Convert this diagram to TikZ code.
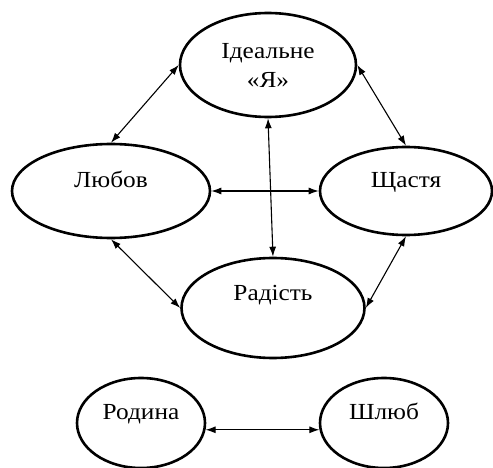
\documentclass[tikz,border=0pt]{standalone}
\usepackage{fontspec}
\setmainfont{Liberation Serif}[FakeStretch=1.1]
\usetikzlibrary{shapes.geometric}
\usetikzlibrary{arrows.meta}

\begin{document}
\begin{tikzpicture}[
  x=1pt,y=-1pt,
  oval/.style={draw,ellipse,line width=2.6pt,inner sep=0pt,align=center,
    font=\fontsize{23}{29}\selectfont},
  ovalup/.style={oval,text height=15pt,text depth=#1},
  ovalup/.default=22pt,
  link/.style={{Latex[length=10pt,width=7pt]}-{Latex[length=10pt,width=7pt]},line width=1.1pt}
]
\useasboundingbox (0,0) rectangle (493,468);

\node[oval,minimum width=176,minimum height=104] (ideal) at (268,65) {Ідеальне\\«Я»};
\node[ovalup,minimum width=198,minimum height=94] (love) at (111,191) {Любов};
\node[ovalup,minimum width=172,minimum height=88] (happy) at (406,191) {Щастя};
\node[ovalup=30pt,minimum width=183,minimum height=100] (joy) at (273,308) {Радість};

\node[ovalup,minimum width=128,minimum height=90] (family) at (141,423) {Родина};
\node[ovalup,minimum width=128,minimum height=90] (marriage) at (384,423) {Шлюб};

\path (ideal.west) edge[link] (love.north)
(ideal.east) edge[link] (happy.north)
(love) edge[link] (happy)
(ideal.south) edge[link] (joy.north)
(love.south) edge[link] (joy.west)
(happy.south) edge[link] (joy.east)
(family.-6) edge[link] (marriage.186)
;

\end{tikzpicture}
\end{document}
